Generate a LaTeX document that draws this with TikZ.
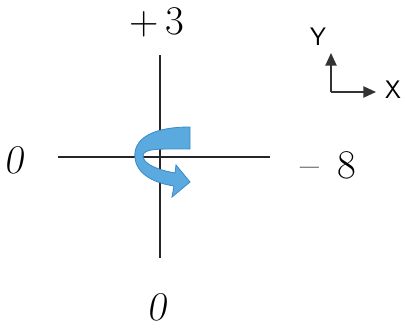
\documentclass[tikz,border=0pt]{standalone}
\usepackage{tikz}
\usetikzlibrary{arrows.meta, positioning}
\definecolor{turnfill}{HTML}{5AAAE0}
\definecolor{turnedge}{HTML}{3C8CC8}

\begin{document}
\begin{tikzpicture}[
    x=0.025cm, y=-0.025cm,
    every node/.style={font=\fontsize{29}{34}\selectfont},
    axis/.style={draw=black!85, line width=0.9pt},
    mini/.style={draw=black!80, line width=1.1pt, -{Triangle[length=9pt, width=8pt]}},
    axlbl/.style={font=\sffamily\fontsize{18}{20}\selectfont}
]
\useasboundingbox (0,0) rectangle (405,329);
% Axes
\coordinate (vt) at (160,55);  \coordinate (vb) at (160,258);
\coordinate (hl) at (58,157);  \coordinate (hr) at (270,157);
\draw[axis] (vt) -- (vb);
\draw[axis] (hl) -- (hr);
% Axis labels
\node (top) at (157,22) {+\,3};
\node (bot) at (158,307) {\textsl{0}};
\node (lft) at (15,160) {\textsl{0}};
\node (rgt) at (328,165) {--\;\,8};
% Mini frame
\coordinate (o) at (331,92);
\coordinate (ytip) at (331,53);
\coordinate (xtip) at (376,92);
\draw[mini] (o) -- (ytip);
\draw[mini] (o) -- (xtip);
\node[axlbl] (ly) at (318,37) {Y};
\node[axlbl] (lx) at (393,90) {X};
% Turn arrow
\filldraw[fill=turnfill, draw=turnedge, line width=0.6pt]
  (190,127) .. controls (150,127) and (133,140) .. (135,158)
  .. controls (137,175) and (155,183) .. (174,186)
  -- (172,197) -- (190,182) -- (176,165) -- (175,173)
  .. controls (158,170) and (143,164) .. (143,156)
  .. controls (143,148) and (160,149) .. (190,149) -- cycle;
\end{tikzpicture}
\end{document}
